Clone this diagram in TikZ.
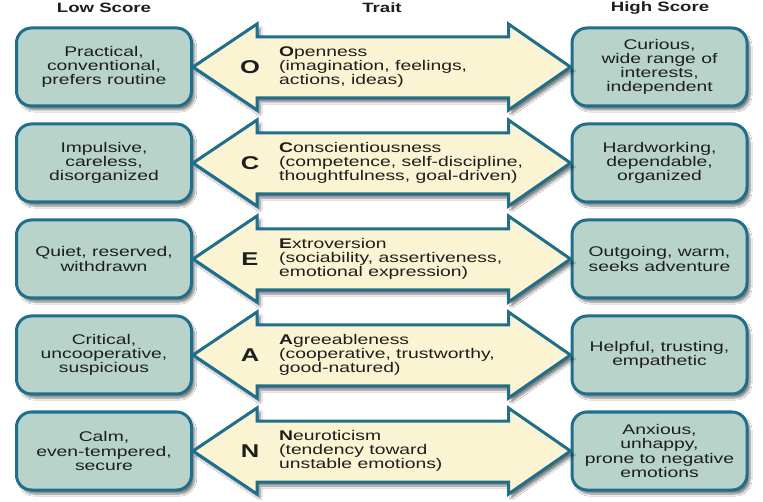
\documentclass[tikz,border=0pt]{standalone}
\usepackage{fontspec}
\setmainfont{Liberation Sans}[FakeStretch=1.38]
\usetikzlibrary{calc,shadows.blur}
\definecolor{boxfill}{HTML}{B8D4CA}
\definecolor{edge}{HTML}{1F6E8C}
\definecolor{arrowfill}{HTML}{FAF4D2}
\definecolor{ink}{HTML}{1E1E1E}
\tikzset{
  scorebox/.style={draw=edge, line width=3pt, fill=boxfill, rounded corners=15pt,
    minimum width=175pt, minimum height=78pt, align=center, text=ink,
    font=\fontsize{14}{14.1}\selectfont, inner sep=0pt,
    blur shadow={shadow xshift=3pt, shadow yshift=-4pt, shadow blur steps=8, shadow opacity=50}},
  traitarrow/.style={draw=edge, line width=3pt, fill=arrowfill, line join=miter,
    blur shadow={shadow xshift=3pt, shadow yshift=-4pt, shadow blur steps=8, shadow opacity=50}},
  bigletter/.style={font=\bfseries\fontsize{18.5}{18.5}\selectfont, text=ink},
  traittext/.style={anchor=west, align=left, text=ink, font=\fontsize{14}{14.3}\selectfont, inner sep=0pt},
  header/.style={font=\bfseries\fontsize{13.5}{14}\selectfont, text=ink}
}
\newcommand\traitrow[7]{%
  \node[scorebox] (low#2) at (104,#1) {#5};
  \node[scorebox] (high#2) at (659.5,#1) {#6};
  \path[traitarrow] (low#2.east) -- ($(low#2.east)+(64,-43)$) -- ($(low#2.east)+(64,-30)$)
     -- ($(high#2.west)+(-62,-30)$) -- ($(high#2.west)+(-62,-43)$) -- (high#2.west)
     -- ($(high#2.west)+(-62,43)$) -- ($(high#2.west)+(-62,31)$)
     -- ($(low#2.east)+(64,31)$) -- ($(low#2.east)+(64,43)$) -- cycle;
  \node[bigletter] (letter#2) at (250,#1) {#3};
  \node[traittext] (trait#2) at (279,#1) {#4};
}
\begin{document}
\begin{tikzpicture}[x=1pt,y=-1pt]
\useasboundingbox[fill=white] (0,0) rectangle (763,502);
\node[header] (hlow) at (104,8) {Low Score};
\node[header] (htrait) at (382,8) {Trait};
\node[header] (hhigh) at (660,8) {High Score};
\traitrow{67}{O}{O}{\textbf{O}penness\\(imagination, feelings,\\actions, ideas)}{Practical,\\conventional,\\prefers routine}{Curious,\\wide range of\\interests,\\independent}{}
\traitrow{163}{C}{C}{\textbf{C}onscientiousness\\(competence, self-discipline,\\thoughtfulness, goal-driven)}{Impulsive,\\careless,\\disorganized}{Hardworking,\\dependable,\\organized}{}
\traitrow{259}{E}{E}{\textbf{E}xtroversion\\(sociability, assertiveness,\\emotional expression)}{Quiet, reserved,\\withdrawn}{Outgoing, warm,\\seeks adventure}{}
\traitrow{355}{A}{A}{\textbf{A}greeableness\\(cooperative, trustworthy,\\good-natured)}{Critical,\\uncooperative,\\suspicious}{Helpful, trusting,\\empathetic}{}
\traitrow{451}{N}{N}{\textbf{N}euroticism\\(tendency toward\\unstable emotions)}{Calm,\\even-tempered,\\secure}{Anxious,\\unhappy,\\prone to negative\\emotions}{}
\end{tikzpicture}
\end{document}
